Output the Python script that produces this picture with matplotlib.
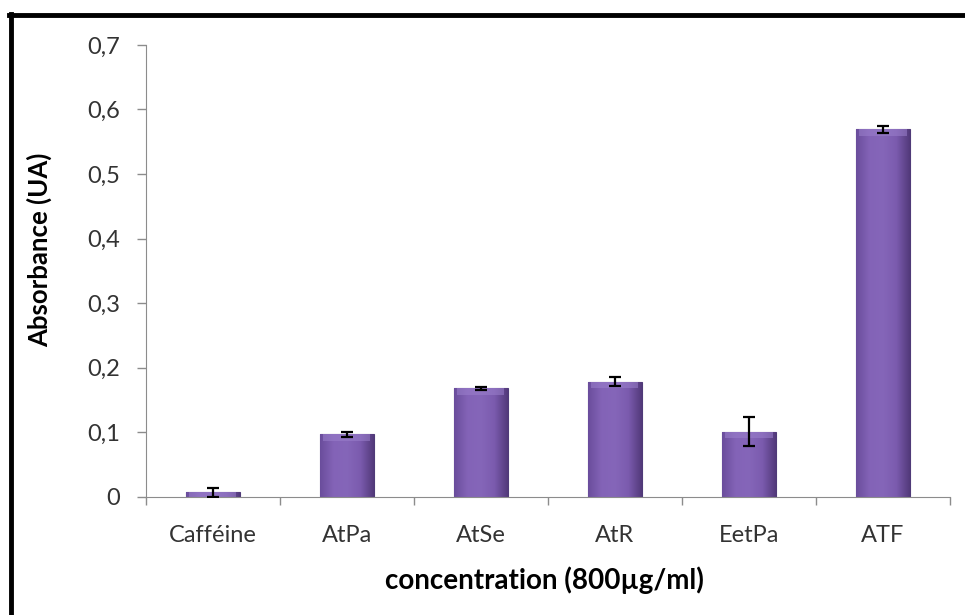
import matplotlib
matplotlib.use('Agg')
import matplotlib.pyplot as plt
import numpy as np
from matplotlib.colors import LinearSegmentedColormap
from matplotlib.lines import Line2D

# donnees
echantillons = ['Cafféine', 'AtPa', 'AtSe', 'AtR', 'EetPa', 'ATF']
absorbance = [0.007, 0.097, 0.168, 0.178, 0.101, 0.569]
erreurs = [0.007, 0.004, 0.002, 0.007, 0.022, 0.005]
graduations = [0, 0.1, 0.2, 0.3, 0.4, 0.5, 0.6, 0.7]
etiquettes_y = ['0', '0,1', '0,2', '0,3', '0,4', '0,5', '0,6', '0,7']

plt.rcParams['font.family'] = ['Lato', 'DejaVu Sans']

fig = plt.figure(figsize=(9.65, 6.15), dpi=100)
ax = fig.add_axes([0.151, 0.192, 0.8335, 0.735])

x = np.arange(len(echantillons))
barres = ax.bar(x, absorbance, 0.4, color='#7a5aae', edgecolor='#4f3a78', linewidth=0.8, zorder=2)

# degrade horizontal dans chaque barre (bords plus sombres)
degrade = LinearSegmentedColormap.from_list('violet', ['#6a4d9c', '#8363b7', '#8566b9', '#7b5bae', '#52397a'])
grad = np.linspace(0, 1, 256).reshape(1, -1)
for b in barres:
    x0, w, h = b.get_x(), b.get_width(), b.get_height()
    im = ax.imshow(grad, cmap=degrade, extent=[x0, x0 + w, 0, h], aspect='auto', zorder=2.1)
    im.set_clip_path(b)
    # reflet clair en haut de la barre
    haut = min(h, 0.01)
    ax.fill_between([x0 + w * 0.06, x0 + w * 0.94], h - haut, h, color='#9b80cc', alpha=0.55, zorder=2.2, lw=0)

ax.errorbar(x, absorbance, yerr=erreurs, fmt='none', ecolor='black', elinewidth=1.6,
            capsize=4.5, capthick=1.6, zorder=3)

ax.set_xlim(-0.5, len(echantillons) - 0.5)
ax.set_ylim(0, 0.7)
ax.set_yticks(graduations)
ax.set_yticklabels(etiquettes_y, fontsize=17, color='#333333')
ax.set_xticks(x)
ax.set_xticklabels(echantillons, fontsize=17, color='#333333')
ax.set_xticks(np.arange(-0.5, len(echantillons), 1), minor=True)
ax.tick_params(axis='x', which='major', length=0, pad=20)
ax.tick_params(axis='x', which='minor', length=6, color='#8c8c8c', width=1)
ax.tick_params(axis='y', length=6.5, color='#8c8c8c', width=1, pad=12)

for cote in ['top', 'right']:
    ax.spines[cote].set_visible(False)
ax.spines['left'].set_color('#8c8c8c')
ax.spines['bottom'].set_color('#8c8c8c')

ax.set_ylabel('Absorbance (UA)', fontsize=18.5, fontweight='bold', va='center')
ax.yaxis.set_label_coords(-0.132, 0.546)
ax.set_xlabel('concentration (800µg/ml)', fontsize=20, fontweight='bold', va='center')
ax.xaxis.set_label_coords(0.496, -0.184)

# cadre noir de l'image (haut et gauche)
fig.add_artist(Line2D([0.009, 1.0], [0.976, 0.976], color='black', lw=3.5, transform=fig.transFigure))
fig.add_artist(Line2D([0.011, 0.011], [0.0, 0.978], color='black', lw=3.5, transform=fig.transFigure))

fig.savefig('out.png', dpi=100)
